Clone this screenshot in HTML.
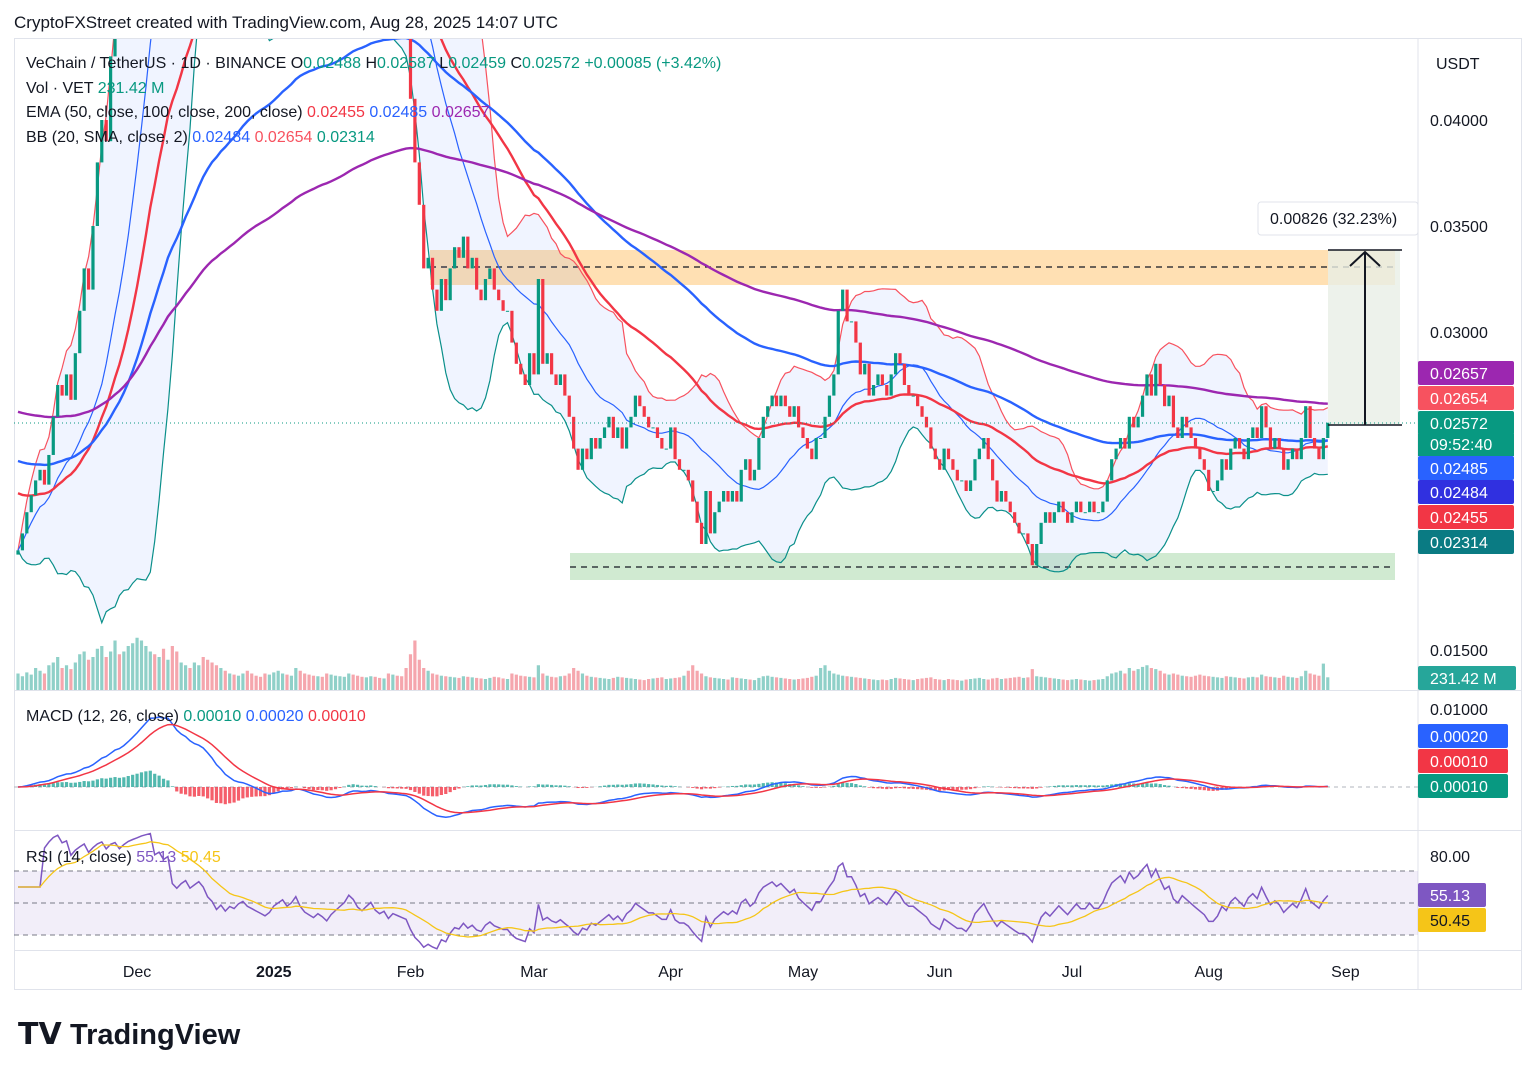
<!DOCTYPE html>
<html><head><meta charset="utf-8">
<style>
body{margin:0;background:#fff;font-family:"Liberation Sans",sans-serif;}
svg text{font-family:"Liberation Sans",sans-serif;}
</style></head>
<body>
<svg id="c" width="1536" height="1077" xmlns="http://www.w3.org/2000/svg">
<rect x="0" y="0" width="1536" height="1077" fill="#fff"/>
<text x="14" y="28" font-size="17" fill="#131722">CryptoFXStreet created with TradingView.com, Aug 28, 2025 14:07 UTC</text>
<rect x="14.5" y="38.5" width="1507" height="951" fill="none" stroke="#e0e3eb"/>
<line x1="1418" y1="38" x2="1418" y2="990" stroke="#e0e3eb"/>
<line x1="14" y1="690.5" x2="1522" y2="690.5" stroke="#e0e3eb"/>
<line x1="14" y1="830.5" x2="1522" y2="830.5" stroke="#e0e3eb"/>
<line x1="14" y1="950.5" x2="1522" y2="950.5" stroke="#e0e3eb"/>
<defs><clipPath id="mp"><rect x="14" y="39" width="1404" height="651"/></clipPath>
<clipPath id="sp"><rect x="14" y="691" width="1404" height="259"/></clipPath></defs>
<g id="boxes" clip-path="url(#mp)">
<rect x="430" y="250" width="965" height="35" fill="#ffd699" opacity="0.75"/>
<line x1="430" y1="267" x2="1395" y2="267" stroke="#131722" stroke-dasharray="6,5" stroke-width="1.3"/>
<rect x="570" y="553" width="825" height="27" fill="#c8e6c9" opacity="0.85"/>
<line x1="570" y1="567" x2="1395" y2="567" stroke="#131722" stroke-dasharray="6,5" stroke-width="1.3"/>
<rect x="1328" y="250" width="72" height="175" fill="#e8efe6" opacity="0.8"/>
</g>
<g id="main" clip-path="url(#mp)"></g>
<g id="sub" clip-path="url(#sp)"></g>
<g id="over">
<line x1="14" y1="423" x2="1418" y2="423" stroke="#089981" stroke-dasharray="1,3"/>
<line x1="1328" y1="250" x2="1402" y2="250" stroke="#131722" stroke-width="1.5"/>
<line x1="1328" y1="425" x2="1402" y2="425" stroke="#131722" stroke-width="1.5"/>
<line x1="1365" y1="425" x2="1365" y2="252" stroke="#131722" stroke-width="2"/>
<path d="M1350 266 L1365 252 L1380 266" fill="none" stroke="#131722" stroke-width="2"/>
<rect x="1258" y="202" width="160" height="33" rx="3" fill="#fff" stroke="#e0e3eb"/>
<text x="1270" y="224" font-size="16" fill="#131722">0.00826 (32.23%)</text>
</g>
<g font-size="16">
<text x="26" y="68" fill="#131722">VeChain / TetherUS · 1D · BINANCE  <tspan>O</tspan><tspan fill="#089981">0.02488</tspan> H<tspan fill="#089981">0.02587</tspan> L<tspan fill="#089981">0.02459</tspan> C<tspan fill="#089981">0.02572</tspan> <tspan fill="#089981">+0.00085 (+3.42%)</tspan></text>
<text x="26" y="93" fill="#131722">Vol · VET  <tspan fill="#089981">231.42 M</tspan></text>
<text x="26" y="117" fill="#131722">EMA (50, close, 100, close, 200, close)  <tspan fill="#f23645">0.02455</tspan> <tspan fill="#2962ff">0.02485</tspan> <tspan fill="#9c27b0">0.02657</tspan></text>
<text x="26" y="142" fill="#131722">BB (20, SMA, close, 2)  <tspan fill="#2962ff">0.02484</tspan> <tspan fill="#f7525f">0.02654</tspan> <tspan fill="#089981">0.02314</tspan></text>
<text x="26" y="721" fill="#131722">MACD (12, 26, close)  <tspan fill="#089981">0.00010</tspan> <tspan fill="#2962ff">0.00020</tspan> <tspan fill="#f23645">0.00010</tspan></text>
<text x="26" y="862" fill="#131722">RSI (14, close)  <tspan fill="#7e57c2">55.13</tspan> <tspan fill="#f5c518">50.45</tspan></text>
</g>
<g id="axis" font-size="16" fill="#131722"></g>
<g>
<text x="18" y="1044" font-size="30" font-weight="bold" fill="#131722">𝗧𝗩</text>
<text x="70" y="1044" font-size="29" font-weight="bold" fill="#131722">TradingView</text>
</g>
</svg>
<script>
// closes in 1e-5 units, daily from Nov 4 2024 to Aug 28 2025
const closes=[1970,2050,2150,2230,2300,2350,2280,2420,2600,2750,2700,2800,2680,2900,3100,3300,3200,3500,3800,4000,3900,4300,4500,4400,4800,5200,5500,5800,
6200,6500,6800,6300,6600,6400,6700,5800,5600,5900,6100,5800,6000,6200,6000,5600,5400,5000,5200,4900,5100,5000,5200,5300,5100,5000,4900,4800,
4700,4800,5000,5100,5200,5000,5100,5300,5000,4800,4700,4600,4700,4600,4450,4600,4700,4800,4900,5100,5000,4800,4700,4800,4900,4700,4600,4650,
4450,4550,4500,4450,4400,4100,3800,3600,3300,3350,3200,3100,3250,3150,3300,3400,3350,3450,3300,3350,3200,3150,3250,3300,3200,3150,3100,3100,
2950,2850,2800,2750,2900,2800,3250,2850,2900,2800,2750,2800,2700,2600,2450,2350,2450,2400,2500,2450,2500,2550,2600,2500,2550,2450,2550,2600,
2700,2650,2600,2550,2550,2500,2450,2450,2550,2400,2350,2350,2300,2200,2100,2000,2250,2050,2150,2200,2250,2200,2250,2200,2350,2400,2300,2350,
2500,2600,2650,2700,2650,2700,2650,2600,2650,2550,2500,2450,2400,2500,2500,2600,2700,2800,3100,3200,3050,3050,2950,2800,2850,2700,2750,2800,
2750,2700,2800,2900,2850,2750,2700,2700,2650,2600,2550,2450,2400,2350,2450,2400,2350,2300,2300,2250,2300,2400,2450,2500,2400,2300,2200,2250,
2200,2150,2100,2050,2050,2000,1900,2000,2100,2150,2100,2150,2200,2150,2100,2150,2200,2150,2150,2200,2150,2150,2200,2300,2400,2450,2500,2450,
2600,2550,2600,2700,2800,2700,2850,2750,2650,2700,2550,2500,2600,2550,2500,2450,2400,2350,2250,2250,2300,2400,2350,2450,2500,2450,2400,2500,
2550,2500,2650,2550,2450,2500,2450,2350,2400,2450,2400,2500,2650,2500,2450,2400,2500,2572];
const volumes=[300,250,320,280,400,350,300,450,500,600,400,450,380,500,650,700,550,600,750,800,600,700,900,650,700,800,850,950,
900,800,700,650,600,750,550,800,700,500,450,400,500,450,600,550,500,450,400,350,300,280,260,300,350,300,260,240,
300,280,320,350,300,280,260,400,350,300,280,260,250,240,300,280,260,250,240,300,280,260,240,230,250,240,220,210,
300,280,260,250,400,650,900,550,400,350,300,280,260,250,240,230,220,250,240,230,220,210,200,220,240,230,210,200,
300,280,260,250,240,230,450,300,260,240,230,250,260,300,400,350,300,260,240,230,220,210,200,220,240,230,220,210,
200,190,180,200,210,220,230,200,210,220,230,260,350,450,350,300,250,230,220,210,200,190,230,220,210,200,190,180,
220,250,260,240,230,220,210,200,190,200,210,220,240,260,400,450,350,300,280,260,250,240,230,220,210,200,190,180,
190,180,200,220,210,200,190,180,200,210,220,230,200,190,180,200,190,180,170,190,200,210,220,200,190,210,220,200,
210,220,230,240,220,230,380,250,240,230,220,210,200,190,180,190,200,190,180,170,180,190,200,250,300,320,350,300,
400,350,380,420,450,400,380,350,300,280,300,280,260,250,240,260,280,260,250,240,230,220,250,240,230,220,210,230,
240,230,280,250,240,230,220,260,240,230,220,250,350,300,280,260,480,231];
// indicator seeds (price units)
const emaSeeds=[0.0225,0.0240,0.0263];
const emaLens=[50,100,200];
const priceTicks=[0.04,0.035,0.03,0.015];
const monthLabels=["Dec","2025","Feb","Mar","Apr","May","Jun","Jul","Aug","Sep"];
const monthDays=[27,58,89,117,148,178,209,239,270,301];
const axisLabels=[["0.02657","#9c27b0"],["0.02654","#f7525f"],["0.02572","#089981"],["0.02485","#2962ff"],["0.02484","#3030e0"],["0.02455","#f23645"],["0.02314","#0a7b83"]];
const macdLabels=[["0.00020","#2962ff"],["0.00010","#f23645"],["0.00010","#089981"]];

const NS="http://www.w3.org/2000/svg";
const xOf=i=>18+i*4.41;
const yP=p=>332-(p-0.03)*21200;
function mk(t,a,parent){const e=document.createElementNS(NS,t);for(const k in a)e.setAttribute(k,a[k]);parent.appendChild(e);return e;}
const main=document.getElementById('main'),sub=document.getElementById('sub'),axis=document.getElementById('axis');
const C=closes.map(v=>v/1e5);
const n=C.length;
const mid=[],up=[],lo=[];
for(let i=0;i<n;i++){const s=C.slice(Math.max(0,i-19),i+1);const m=s.reduce((a,b)=>a+b)/s.length;const sd=Math.sqrt(s.reduce((a,b)=>a+(b-m)*(b-m),0)/s.length);mid.push(m);up.push(m+2*sd);lo.push(m-2*sd);}
let fillD="M"+up.map((v,i)=>xOf(i)+","+yP(v)).join("L")+"L"+lo.map((v,i)=>xOf(i)+","+yP(v)).reverse().join("L")+"Z";
let f=mk('path',{d:fillD,fill:'#2962ff',opacity:0.07},main);


function line(arr,col,w,parent,name,yf){const p=mk('path',{d:"M"+arr.map((v,i)=>xOf(i).toFixed(1)+","+yf(v).toFixed(1)).join("L"),fill:'none',stroke:col,'stroke-width':w},parent);

return p;}
line(up,'#f7525f',1.2,main,'bb-upper',yP);
line(lo,'#0a8f8a',1.2,main,'bb-lower',yP);
line(mid,'#2962ff',1.2,main,'bb-basis',yP);
for(let i=0;i<n;i++){const upc=i==0||C[i]>=C[i-1];const h=volumes[i]*0.055;
const r=mk('rect',{x:xOf(i)-1.6,y:690-h,width:3.2,height:h,fill:upc?'#8fd0c8':'#f5a6ad'},main);

}
const emaCols=['#f23645','#2962ff','#9c27b0'];const emaNames=['ema-50','ema-100','ema-200'];
emaLens.forEach((L,j)=>{const k=2/(L+1);let e=emaSeeds[j];const arr=C.map(c=>(e=e+k*(c-e)));line(arr,emaCols[j],2.4,main,emaNames[j],yP);});
for(let i=0;i<n;i++){const o=i==0?0.0195:C[i-1],c=C[i];const upc=c>=o;const y1=yP(Math.max(o,c)),y2=yP(Math.min(o,c));
const r=mk('rect',{x:xOf(i)-1.6,y:y1,width:3.2,height:Math.max(1,y2-y1),fill:upc?'#089981':'#f23645'},main);

}
function ema(a,L){const k=2/(L+1);let e=a[0];return a.map(v=>(e=e+k*(v-e)));}
const e12=ema(C,12),e26=ema(C,26);const macd=e12.map((v,i)=>v-e26[i]);const sig=ema(macd,9);
const mx=Math.max(...macd);const yM=v=>787-v/mx*70;
mk('line',{x1:14,y1:787,x2:1418,y2:787,stroke:'#b2b5be','stroke-dasharray':'4,4'},sub);
for(let i=0;i<n;i++){const h=macd[i]-sig[i];const y=yM(h);
const r=mk('rect',{x:xOf(i)-1.6,y:Math.min(y,787),width:3.2,height:Math.abs(y-787),fill:h>=0?'#26a69a':'#f23645',opacity:0.8},sub);

}
line(macd,'#2962ff',1.5,sub,'macd-line',yM);
line(sig,'#f23645',1.5,sub,'signal-line',yM);
const rsi=[];let ag=0,al=0;for(let i=0;i<n;i++){const d=i?C[i]-C[i-1]:0;const g=Math.max(d,0),l=Math.max(-d,0);if(i<=14){ag=(ag*Math.max(i-1,0)+g)/Math.max(i,1);al=(al*Math.max(i-1,0)+l)/Math.max(i,1);}else{ag=(ag*13+g)/14;al=(al*13+l)/14;}rsi.push(al==0?60:100-100/(1+ag/al));}
const yR=v=>903-(v-50)*1.6;
mk('rect',{x:14,y:871,width:1404,height:64,fill:'#7e57c2',opacity:0.1},sub);
[871,903,935].forEach(y=>mk('line',{x1:14,y1:y,x2:1418,y2:y,stroke:'#787b86','stroke-dasharray':'5,4'},sub));
line(rsi,'#7e57c2',1.5,sub,'rsi-line',yR);
const rsiMa=rsi.map((v,i)=>{const s=rsi.slice(Math.max(0,i-13),i+1);return s.reduce((a,b)=>a+b)/s.length;});
line(rsiMa,'#f5c518',1.3,sub,'rsi-ma-line',yR);
function txt(x,y,s,a,parent,name){const t=mk('text',a||{},parent);t.setAttribute('x',x);t.setAttribute('y',y);t.textContent=s;

return t;}
txt(1436,69,'USDT',{},axis,'currency-label');
priceTicks.forEach(p=>txt(1430,yP(p)+6,p.toFixed(5),{},axis,'price-tick'));
txt(1430,715,'0.01000',{},axis,'macd-tick');
txt(1430,862,'80.00',{},axis,'rsi-tick');
monthLabels.forEach((m,i)=>{txt(xOf(monthDays[i]),977,m,{'text-anchor':'middle','font-weight':m=='2025'?'bold':'normal'},axis,'time-tick');});
const ys=[373,398,423,468,492,517,542];
axisLabels.forEach((l,i)=>{const r=mk('rect',{x:1418,y:ys[i]-12,width:96,height:24,rx:2,fill:l[1]},axis);


txt(1430,ys[i]+6,l[0],{fill:'#fff'},axis,'price-label-text');});
mk('rect',{x:1418,y:434,width:96,height:22,fill:'#089981'},axis);
txt(1430,450,'09:52:40',{fill:'#fff'},axis,'countdown-text');
mk('rect',{x:1418,y:666,width:98,height:24,rx:2,fill:'#26a69a'},axis);
txt(1430,684,'231.42 M',{fill:'#fff'},axis,'volume-label');
[[736],[761],[786]].forEach((y,i)=>{mk('rect',{x:1418,y:y[0]-12,width:90,height:24,rx:2,fill:macdLabels[i][1]},axis);txt(1430,y[0]+6,macdLabels[i][0],{fill:'#fff'},axis,'macd-label');});
mk('rect',{x:1418,y:883,width:68,height:24,rx:2,fill:'#7e57c2'},axis);
txt(1430,901,'55.13',{fill:'#fff'},axis,'rsi-label');
mk('rect',{x:1418,y:908,width:68,height:24,rx:2,fill:'#f5c518'},axis);
txt(1430,926,'50.45',{fill:'#131722'},axis,'rsi-ma-label');
</script>
</body></html>
